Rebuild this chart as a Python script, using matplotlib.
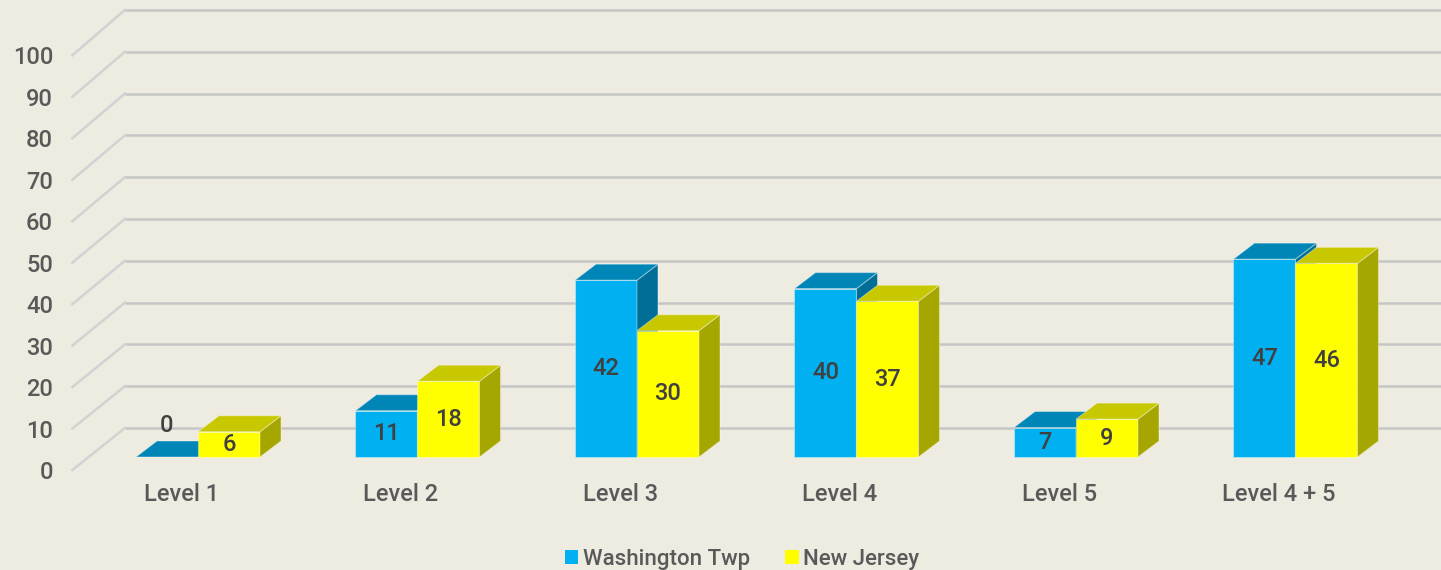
import matplotlib.pyplot as plt
from matplotlib.patches import Polygon, Patch

# chart data
categories = ['Level 1', 'Level 2', 'Level 3', 'Level 4', 'Level 5', 'Level 4 + 5']
washington = [0, 11, 42, 40, 7, 47]
new_jersey = [6, 18, 30, 37, 9, 46]
y_ticks = [0, 10, 20, 30, 40, 50, 60, 70, 80, 90, 100]

bg = '#EEEBE0'
blue = ('#00B0F0', '#0086B6', '#006E96')     # front, top, side
yellow = ('#FFFF00', '#C8C800', '#A6A600')
text_col = '#595959'
label_col = '#404040'

plt.rcParams['font.family'] = ['Roboto', 'DejaVu Sans']
plt.rcParams['font.weight'] = 'medium'

fig = plt.figure(figsize=(14.41, 5.70), dpi=100, facecolor=bg)
ax = fig.add_axes([0, 0, 1, 1])
ax.set_facecolor(bg)
ax.set_xlim(-0.902, 5.663)
ax.set_ylim(-26.84, 108.55)
ax.axis('off')

# fake 3d offsets in data units
bar_w = 0.2825
depth_dx, depth_dy = 0.0957, 3.8        # bar depth
back_dx, back_dy = 0.167, 6.9           # back wall relative to bar fronts
front_dx, front_dy = -0.073, -3.1       # front edge of floor
wall_left = -0.3326
wall_k = 0.993      # back wall slightly smaller (perspective)
front_k = 0.985     # front floor edge

# back wall gridlines and side wall diagonals
for v in y_ticks:
    yb = v * wall_k + back_dy
    ax.plot([wall_left, 5.7], [yb, yb], color='#C6C6C6', lw=1.8, zorder=1, solid_capstyle='butt')
    x0 = wall_left - (back_dx - front_dx)
    yf = v * front_k + front_dy
    ax.plot([x0, wall_left], [yf, yb], color='#D2D2D2', lw=1.8, zorder=1)
    ax.text(-0.66, yf - 0.6, str(v), ha='right', va='center',
            fontsize=17, color=text_col)


def draw_box(x, h, cols, z):
    front, top, side = cols
    ec = (1, 1, 1, 0.35)
    if h > 0:
        ax.bar(x, h, width=bar_w, align='edge', color=front, edgecolor=ec, lw=0.8, zorder=z)
        ax.add_patch(Polygon([(x + bar_w, 0), (x + bar_w + depth_dx, depth_dy),
                              (x + bar_w + depth_dx, h + depth_dy), (x + bar_w, h)],
                             closed=True, fc=side, ec=ec, lw=0.8, zorder=z))
    ax.add_patch(Polygon([(x, h), (x + bar_w, h), (x + bar_w + depth_dx, h + depth_dy),
                          (x + depth_dx, h + depth_dy)],
                         closed=True, fc=top, ec=ec, lw=0.8, zorder=z))


for i, (w, nj) in enumerate(zip(washington, new_jersey)):
    draw_box(i - bar_w, w, blue, 3 + 2 * i)
    draw_box(i, nj, yellow, 4 + 2 * i)
    for x, v in [(i - bar_w / 2, w), (i + bar_w / 2, nj)]:
        y = v + 7.5 if v == 0 else v / 2
        ax.text(x, y, str(v), ha='center', va='center', fontsize=17,
                color=label_col, zorder=20)
    ax.text(i - 0.077, -8.8, categories[i], ha='center', va='center',
            fontsize=17, color=text_col)

handles = [Patch(facecolor=blue[0], label='Washington Twp'),
           Patch(facecolor=yellow[0], label='New Jersey')]
leg = ax.legend(handles=handles, loc='lower center', bbox_to_anchor=(0.515, -0.035),
                ncol=2, frameon=False, fontsize=16, handlelength=0.6, handleheight=0.6,
                handletextpad=0.2, columnspacing=1.6)
for t in leg.get_texts():
    t.set_color(text_col)

fig.savefig('out.png', dpi=100, facecolor=bg)
